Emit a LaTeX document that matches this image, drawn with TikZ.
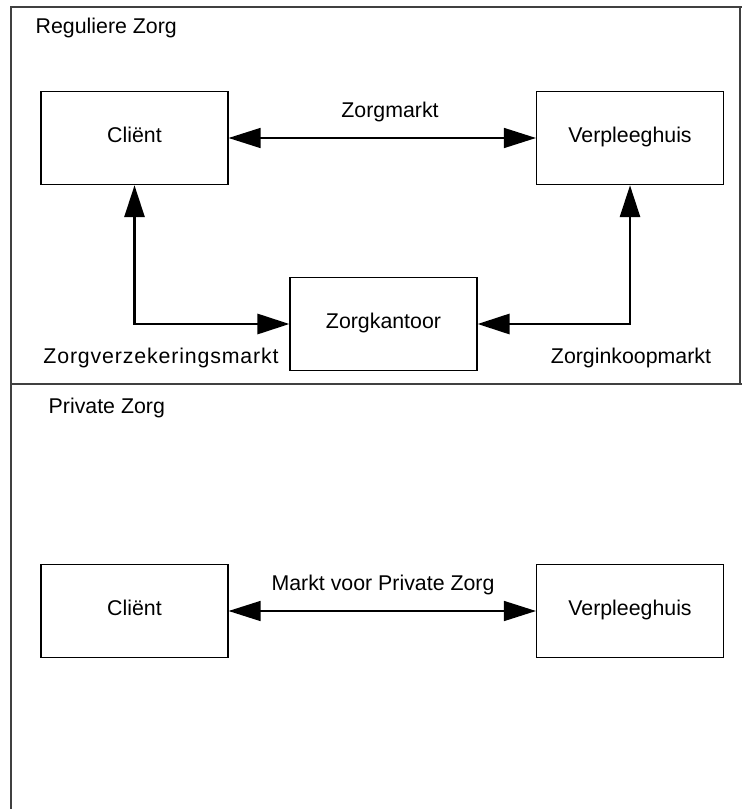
\documentclass[tikz,border=0pt]{standalone}
\usepackage{fontspec}
\setmainfont{Liberation Sans}
\usetikzlibrary{arrows.meta}

\begin{document}
\begin{tikzpicture}[x=0.75pt, y=-0.75pt, font=\fontsize{16}{19}\selectfont]
\tikzstyle{party} = [rectangle, minimum width=140pt, minimum height=69.75pt, text height=1.4ex, text depth=.1ex, text centered, draw=black, line width=1.1pt]
\tikzstyle{frame} = [draw=black!75, line width=1.1pt]
\tikzstyle{market} = [line width=1.1pt, {Triangle[length=24pt,width=15pt]}-{Triangle[length=24pt,width=15pt]}]
\tikzstyle{channel} = [line width=2.2pt, {Triangle[length=24pt,width=15pt]}-{Triangle[length=24pt,width=15pt]}]
\useasboundingbox (0,0) rectangle (742,809);
 % kader en titels
\draw [frame] (11,809) -- (11,7) -- (742,7);
\draw [frame] (740,7) -- (740,384);
\draw [frame] (11,384) -- (742,384);
\node (regtitle) [anchor=west] at (31,28) {Reguliere Zorg};
\node (privtitle) [anchor=west] at (44,408) {Private Zorg};
 % reguliere zorg
\node (client) [party] at (134.5,138) {Cliënt};
\node (verpl) [party] at (630,138) {Verpleeghuis};
\node (kantoor) [party] at (383.5,324) {Zorgkantoor};
\node (zorgmarkt) at (390,112) {Zorgmarkt};
\node (verzmarkt) at (161,358) {\addfontfeatures{LetterSpace=4}Zorgverzekeringsmarkt};
\node (inkoopmarkt) at (631,358) {Zorginkoopmarkt};
 % private zorg
\node (client2) [party] at (134.5,611) {Cliënt};
\node (verpl2) [party] at (630,611) {Verpleeghuis};
\node (privmarkt) at (383,585) {Markt voor Private Zorg};

 % verbindingen
\draw [market] (client) -- (verpl);
\draw [channel] (client.south) |- (kantoor.west);
\draw [channel] (kantoor.east) -| (verpl.south);
\draw [market] (client2) -- (verpl2);
\end{tikzpicture}
\end{document}
